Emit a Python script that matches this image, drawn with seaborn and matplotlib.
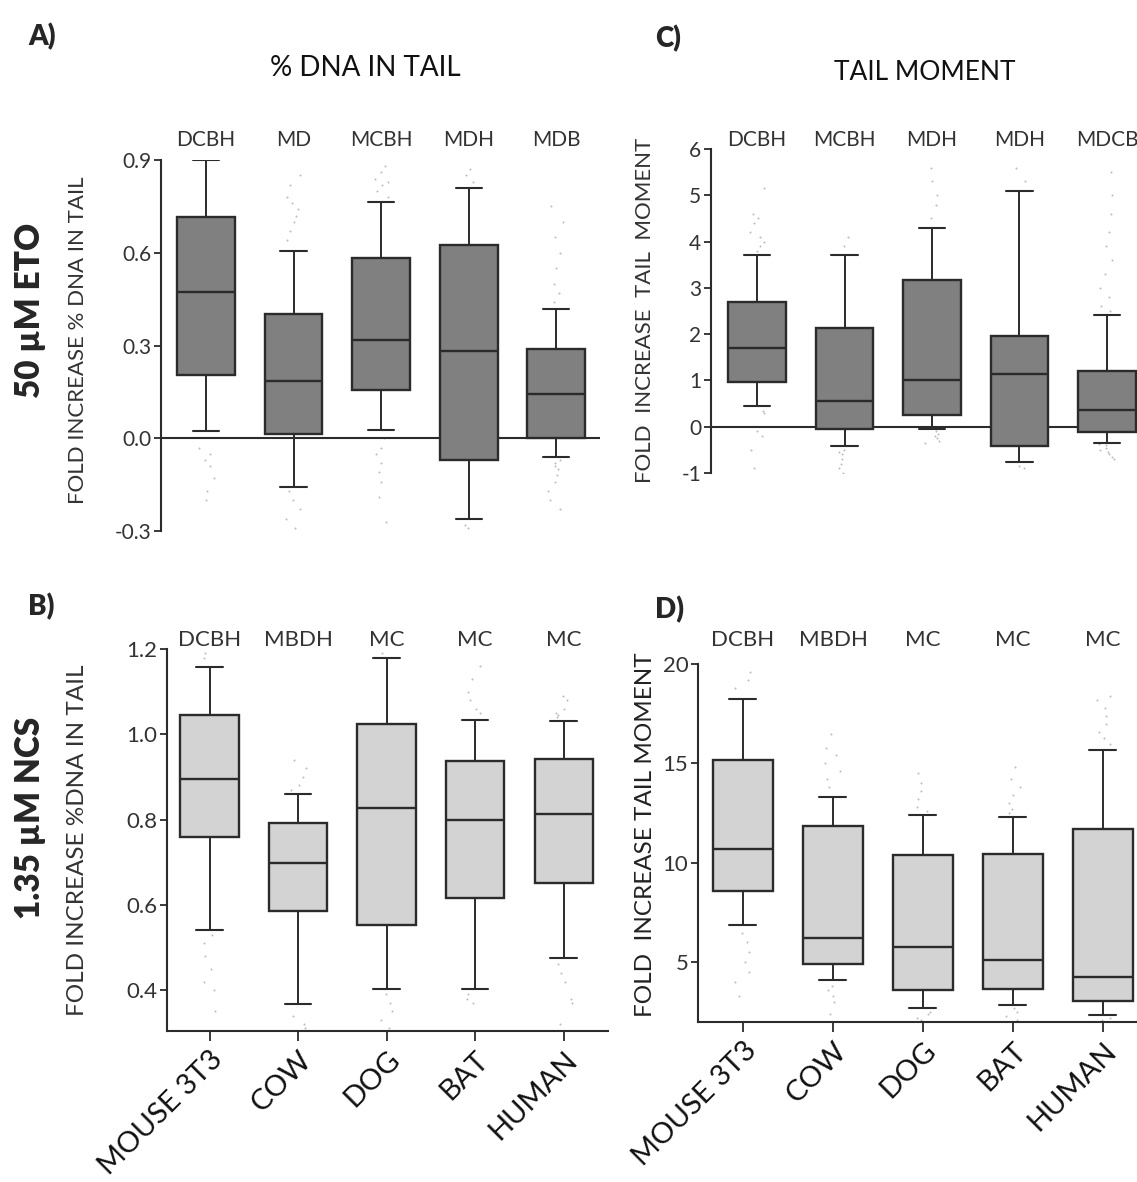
import numpy as np
import pandas as pd
import matplotlib
matplotlib.use("Agg")
import matplotlib.pyplot as plt
from matplotlib import transforms
import seaborn as sns

# ---------------------------------------------------------------- data
species = ["MOUSE 3T3", "COW", "DOG", "BAT", "HUMAN"]

# A) % DNA in tail, 50 µM ETO
eto_dna_whislo = [0.023, -0.157, 0.028, -0.260, -0.060]
eto_dna_q1 = [0.203, 0.015, 0.155, -0.071, 0.001]
eto_dna_med = [0.474, 0.184, 0.319, 0.283, 0.142]
eto_dna_q3 = [0.715, 0.401, 0.582, 0.624, 0.290]
eto_dna_whishi = [0.900, 0.606, 0.763, 0.811, 0.417]
eto_dna_sig = ["DCBH", "MD", "MCBH", "MDH", "MDB"]
eto_dna_out = [
    [-0.03, -0.05, -0.07, -0.09, -0.13, -0.17, -0.20],
    [0.64, 0.67, 0.70, 0.72, 0.74, 0.76, 0.78, 0.82, 0.85,
     -0.17, -0.20, -0.23, -0.26, -0.29],
    [0.78, 0.80, 0.82, 0.83, 0.84, 0.86, 0.88,
     0.00, -0.03, -0.05, -0.08, -0.11, -0.14, -0.19, -0.27],
    [0.83, 0.85, 0.87, -0.28, -0.29],
    [0.44, 0.47, 0.50, 0.55, 0.60, 0.65, 0.70, 0.75,
     -0.07, -0.08, -0.09, -0.10, -0.12, -0.14, -0.17, -0.20, -0.23],
]

# C) Tail moment, 50 µM ETO
eto_tm_whislo = [0.44, -0.41, -0.06, -0.76, -0.35]
eto_tm_q1 = [0.97, -0.04, 0.26, -0.42, -0.12]
eto_tm_med = [1.71, 0.56, 1.00, 1.13, 0.37]
eto_tm_q3 = [2.70, 2.13, 3.17, 1.96, 1.21]
eto_tm_whishi = [3.71, 3.71, 4.29, 5.10, 2.41]
eto_tm_sig = ["DCBH", "MCBH", "MDH", "MDH", "MDCB"]
eto_tm_out = [
    [3.8, 3.9, 4.0, 4.1, 4.2, 4.4, 4.5, 4.6, 5.15, 0.3, 0.35, -0.1, -0.2, -0.5, -0.9],
    [3.9, 4.1, -0.5, -0.55, -0.6, -0.7, -0.8, -0.9, -1.0],
    [4.5, 4.8, 5.0, 5.3, 5.6, -0.1, -0.15, -0.2, -0.25, -0.3, -0.35],
    [5.3, 5.6, -0.85, -0.9],
    [2.5, 2.6, 2.8, 3.0, 3.3, 3.6, 3.9, 4.2, 4.6, 5.0, 5.5,
     -0.38, -0.4, -0.45, -0.5, -0.55, -0.6, -0.65, -0.7],
]

# B) % DNA in tail, 1.35 µM NCS
ncs_dna_whislo = [0.542, 0.367, 0.403, 0.403, 0.476]
ncs_dna_q1 = [0.759, 0.586, 0.553, 0.617, 0.651]
ncs_dna_med = [0.895, 0.699, 0.828, 0.800, 0.814]
ncs_dna_q3 = [1.046, 0.792, 1.024, 0.937, 0.943]
ncs_dna_whishi = [1.157, 0.861, 1.179, 1.034, 1.031]
ncs_dna_sig = ["DCBH", "MBDH", "MC", "MC", "MC"]
ncs_dna_out = [
    [1.18, 1.19, 0.53, 0.51, 0.48, 0.45, 0.42, 0.40, 0.35],
    [0.87, 0.88, 0.90, 0.92, 0.94, 0.34, 0.32, 0.31],
    [1.19, 0.39, 0.37, 0.35, 0.33, 0.31],
    [1.05, 1.06, 1.08, 1.10, 1.13, 1.16, 0.39, 0.38, 0.37],
    [1.04, 1.045, 1.05, 1.06, 1.08, 1.09, 0.46, 0.44, 0.42, 0.38, 0.37, 0.32],
]

# D) Tail moment, 1.35 µM NCS
ncs_tm_whislo = [6.86, 4.10, 2.71, 2.86, 2.35]
ncs_tm_q1 = [8.61, 4.91, 3.61, 3.68, 3.08]
ncs_tm_med = [10.72, 6.22, 5.75, 5.13, 4.24]
ncs_tm_q3 = [15.16, 11.83, 10.42, 10.45, 11.68]
ncs_tm_whishi = [18.22, 13.33, 12.42, 12.30, 15.68]
ncs_tm_sig = ["DCBH", "MBDH", "MC", "MC", "MC"]
ncs_tm_out = [
    [18.8, 19.2, 19.6, 6.5, 6.0, 5.5, 5.0, 4.5, 4.0, 3.3],
    [13.8, 14.2, 14.6, 15.0, 15.4, 15.8, 16.5, 3.8, 3.6, 3.3, 3.0, 2.4],
    [12.6, 12.8, 13.2, 13.6, 14.0, 14.5, 2.5, 2.4, 2.2, 2.1],
    [12.5, 12.7, 13.0, 13.4, 13.8, 14.2, 14.8, 2.7, 2.5, 2.3, 2.1],
    [16.0, 16.3, 16.6, 17.0, 17.4, 17.8, 18.2, 18.4, 2.2, 2.1],
]

# ---------------------------------------------------------------- style
sns.set_style("ticks")
FONT = ["Lato", "DejaVu Sans"]
plt.rcParams["font.family"] = FONT
INK = "#2b2b2b"

W, H = 1137, 1182
fig = plt.figure(figsize=(W / 100, H / 100), dpi=100)
np.random.seed(7)


def add_axes_px(left, right, top, bottom):
    return fig.add_axes([left / W, 1 - bottom / H, (right - left) / W, (bottom - top) / H])


def ftext(x, y, s, **kw):
    fig.text(x / W, 1 - y / H, s, **kw)


def panel(ax, lo, q1, med, q3, hi, outs, sig, face, xlim, ylim, yticks, ytl,
          sig_y, tick_kw, bottom_axis):
    df = pd.DataFrame(
        [(species[i], v) for i, vals in enumerate(outs) for v in vals],
        columns=["species", "value"],
    )
    sns.stripplot(data=df, x="species", y="value", order=species, ax=ax,
                  color="#b8b8b8", size=1.4, jitter=0.09, linewidth=0, zorder=1)
    stats = [dict(whislo=a, q1=b, med=c, q3=d, whishi=e, fliers=[])
             for a, b, c, d, e in zip(lo, q1, med, q3, hi)]
    ax.bxp(stats, positions=range(len(species)), widths=0.66, capwidths=0.3,
           patch_artist=True, showfliers=False, manage_ticks=False,
           boxprops=dict(facecolor=face, edgecolor=INK, linewidth=1.7),
           medianprops=dict(color=INK, linewidth=1.7),
           whiskerprops=dict(color=INK, linewidth=1.4),
           capprops=dict(color=INK, linewidth=1.5), zorder=3)
    ax.set_xlim(*xlim)
    ax.set_ylim(*ylim)
    ax.set_xlabel("")
    ax.set_ylabel("")
    ax.set_yticks(yticks)
    ax.set_yticklabels(ytl, color="#333333", **tick_kw)
    ax.tick_params(axis="y", length=5, width=1.3, color=INK, pad=2)
    for s in ("top", "right"):
        ax.spines[s].set_visible(False)
    ax.spines["left"].set_color(INK)
    ax.spines["left"].set_linewidth(1.5)
    if bottom_axis:
        ax.spines["bottom"].set_color(INK)
        ax.spines["bottom"].set_linewidth(1.5)
        ax.set_xticks(range(len(species)))
        shift = transforms.ScaledTranslation(22 / 100, -28 / 100, fig.dpi_scale_trans)
        labels = ax.set_xticklabels(species, rotation=45, ha="right", va="top",
                                    rotation_mode="anchor", fontsize=21,
                                    color="#111111")
        for lab in labels:
            lab.set_transform(lab.get_transform() + shift)
        ax.tick_params(axis="x", length=7, width=1.3, color=INK, pad=4)
    else:
        ax.spines["bottom"].set_visible(False)
        ax.set_xticks([])
        ax.axhline(0, color=INK, linewidth=1.5, zorder=2)
    trans = transforms.blended_transform_factory(ax.transData, ax.transAxes)
    for i, s in enumerate(sig):
        ax.text(i, sig_y, s, transform=trans, ha="center", va="center",
                color="#333333", **tick_kw)


regular = dict(family=FONT, fontsize=15)
narrow = dict(family=FONT, fontsize=16)

# A) % DNA in tail, ETO
axA = add_axes_px(161, 600, 160, 531)
panel(axA, eto_dna_whislo, eto_dna_q1, eto_dna_med, eto_dna_q3, eto_dna_whishi,
      eto_dna_out, eto_dna_sig, "#808080", (-0.514, 4.5), (-0.3, 0.9),
      [-0.3, 0.0, 0.3, 0.6, 0.9], ["-0.3", "0.0", "0.3", "0.6", "0.9"],
      1.054, regular, False)

# C) Tail moment, ETO
axC = add_axes_px(711, 1137, 149, 473)
panel(axC, eto_tm_whislo, eto_tm_q1, eto_tm_med, eto_tm_q3, eto_tm_whishi,
      eto_tm_out, eto_tm_sig, "#808080", (-0.526, 4.343), (-1, 6),
      list(range(-1, 7)), [str(v) for v in range(-1, 7)],
      1.028, regular, False)

# B) % DNA in tail, NCS
axB = add_axes_px(167, 608, 649, 1031)
panel(axB, ncs_dna_whislo, ncs_dna_q1, ncs_dna_med, ncs_dna_q3, ncs_dna_whishi,
      ncs_dna_out, ncs_dna_sig, "#d3d3d3", (-0.48, 4.5), (0.304, 1.2),
      [0.4, 0.6, 0.8, 1.0, 1.2], ["0.4", "0.6", "0.8", "1.0", "1.2"],
      1.024, dict(family=FONT, fontsize=16), True)

# D) Tail moment, NCS
axD = add_axes_px(698, 1137, 664, 1022)
panel(axD, ncs_tm_whislo, ncs_tm_q1, ncs_tm_med, ncs_tm_q3, ncs_tm_whishi,
      ncs_tm_out, ncs_tm_sig, "#d3d3d3", (-0.5, 4.38), (2.0, 20),
      [5, 10, 15, 20], ["5", "10", "15", "20"],
      1.067, narrow, True)

# ---------------------------------------------------------------- annotations
for x, y, s in [(28, 37, "A)"), (655, 39, "C)"), (28, 607, "B)"), (655, 610, "D)")]:
    ftext(x, y, s, fontsize=20, fontweight="heavy", ha="left", va="center")

ftext(365, 68, "% DNA IN TAIL", fontsize=20, ha="center", va="center", color="#111111")
ftext(925, 72, "TAIL MOMENT", fontsize=19, ha="center", va="center", color="#111111")

ftext(30, 310, "50 µM ETO", fontsize=24, fontweight="heavy", rotation=90,
      ha="center", va="center")
ftext(30, 818, "1.35 µM NCS", fontsize=24, fontweight="heavy", rotation=90,
      ha="center", va="center")

ftext(78, 340, "FOLD INCREASE % DNA IN TAIL", fontsize=16, rotation=90,
      ha="center", va="center", color="#333333")
ftext(645, 310, "FOLD  INCREASE  TAIL  MOMENT", fontsize=16, rotation=90,
      ha="center", va="center", color="#333333")
ftext(78, 840, "FOLD INCREASE %DNA IN TAIL", fontsize=17.5, rotation=90,
      ha="center", va="center", color="#333333")
ftext(645, 835, "FOLD  INCREASE TAIL MOMENT", fontsize=17.5, rotation=90,
      ha="center", va="center", color="#222222")

fig.savefig("out.png", dpi=100, facecolor="white")
